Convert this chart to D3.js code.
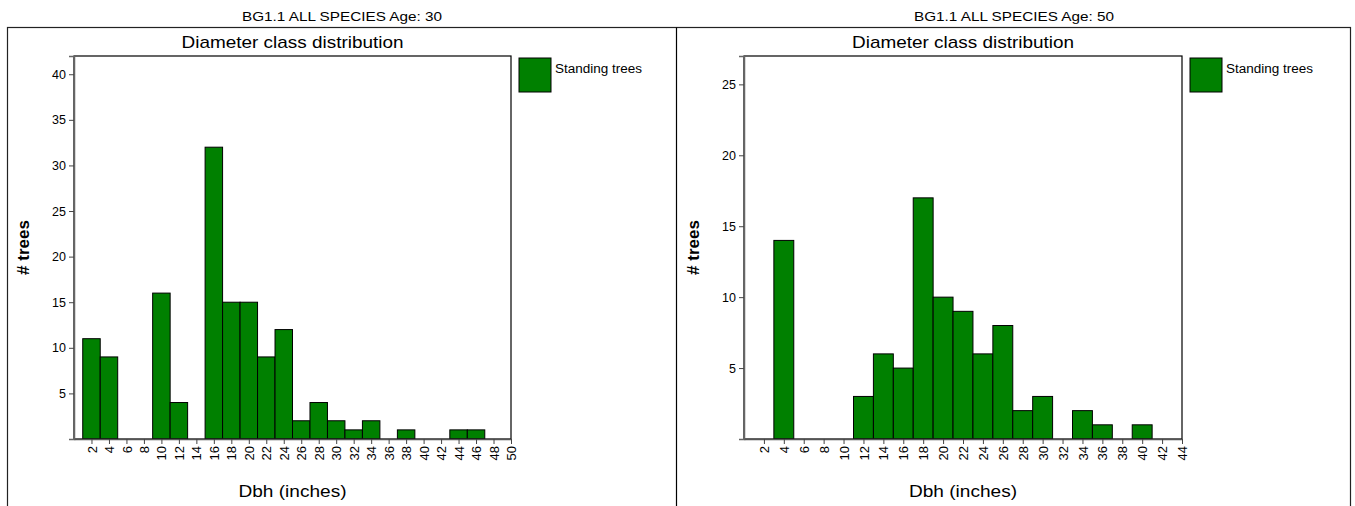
<!DOCTYPE html>
<html>
<head>
<meta charset="utf-8">
<script src="https://cdn.jsdelivr.net/npm/d3@7"></script>
<style>
  html, body { margin: 0; padding: 0; background: #fff; }
  svg { display: block; }
  text { font-family: "Liberation Sans", Arial, sans-serif; fill: #000; }
</style>
</head>
<body>
<svg id="chart" width="1355" height="506"></svg>
<script>
// Diameter classes (inches) and tree counts per class
const dbhAge30 = [2,4,6,8,10,12,14,16,18,20,22,24,26,28,30,32,34,36,38,40,42,44,46,48,50];
const treesAge30 = [11,9,0,0,16,4,0,32,15,15,9,12,2,4,2,1,2,0,1,0,0,1,1,0,0];

const dbhAge50 = [2,4,6,8,10,12,14,16,18,20,22,24,26,28,30,32,34,36,38,40,42,44];
const treesAge50 = [0,14,0,0,0,3,6,5,17,10,9,6,8,2,3,0,2,1,0,1,0,0];

const yTicksAge30 = [5,10,15,20,25,30,35,40];
const yTicksAge50 = [5,10,15,20,25];

const panelTitles = ["BG1.1 ALL SPECIES Age: 30", "BG1.1 ALL SPECIES Age: 50"];
const chartTitle = "Diameter class distribution";
const legendLabel = "Standing trees";
const xLabel = "Dbh (inches)";
const yLabel = "# trees";

const svg = d3.select("#chart");

// horizontal text drawn slightly wide
function wideText(sel, len) {
  return sel.attr("textLength", len).attr("lengthAdjust", "spacingAndGlyphs");
}

function drawPanel(cfg) {
  const g = svg.append("g");

  // panel heading above the frame
  g.append("text")
    .attr("x", (cfg.frameX0 + cfg.frameX1) / 2)
    .attr("y", 21)
    .attr("text-anchor", "middle")
    .style("font-size", "13px")
    .text(cfg.title)
    .call(wideText, 200);

  const x = d3.scaleLinear().domain([0, cfg.xMax]).range([cfg.px0, cfg.px1]);
  const y = d3.scaleLinear().domain([0, cfg.yMax]).range([cfg.py1, cfg.py0]);

  // chart title
  g.append("text")
    .attr("x", (cfg.px0 + cfg.px1) / 2)
    .attr("y", 48)
    .attr("text-anchor", "middle")
    .style("font-size", "17px")
    .text(chartTitle)
    .call(wideText, 222);

  // bars: each class spans +/-1 inch around its midpoint
  g.selectAll("rect.bar")
    .data(cfg.dbh.map((d, i) => ({ d, v: cfg.values[i] })).filter(o => o.v > 0))
    .join("rect")
    .attr("class", "bar")
    .attr("x", o => x(o.d - 1))
    .attr("width", o => x(o.d + 1) - x(o.d - 1))
    .attr("y", o => y(o.v))
    .attr("height", o => y(0) - y(o.v))
    .attr("fill", "#008000")
    .attr("stroke", "#000")
    .attr("stroke-width", 1);

  // plot frame
  g.append("rect")
    .attr("x", cfg.px0).attr("y", cfg.py0)
    .attr("width", cfg.px1 - cfg.px0).attr("height", cfg.py1 - cfg.py0)
    .attr("fill", "none").attr("stroke", "#000").attr("stroke-width", 1.2);

  // y axis
  const yAxis = g.append("g")
    .attr("transform", `translate(${cfg.px0},0)`)
    .call(d3.axisLeft(y).tickValues(cfg.yTicks).tickSize(5).tickPadding(3).tickFormat(d3.format("d")));
  yAxis.select(".domain").attr("stroke", "#666").attr("stroke-width", 1.5);
  yAxis.selectAll(".tick line").attr("stroke", "#444");
  yAxis.selectAll(".tick text")
    .style("font-size", "12.5px")
    .style("font-family", "'Liberation Sans', Arial, sans-serif")
    .attr("fill", "#000");

  // x axis with vertical labels
  const xAxis = g.append("g")
    .attr("transform", `translate(0,${cfg.py1})`)
    .call(d3.axisBottom(x).tickValues(cfg.dbh).tickSize(5).tickSizeOuter(0).tickFormat(d3.format("d")));
  xAxis.select(".domain").attr("stroke", "#555").attr("stroke-width", 1.5);
  xAxis.selectAll(".tick line").attr("stroke", "#444");
  xAxis.selectAll(".tick text")
    .style("font-size", "13px")
    .style("font-family", "'Liberation Sans', Arial, sans-serif")
    .attr("fill", "#000")
    .attr("transform", "rotate(-90)")
    .attr("text-anchor", "end")
    .attr("x", -7)
    .attr("y", 0)
    .attr("dy", "0.35em");

  // axis titles
  g.append("text")
    .attr("x", (cfg.px0 + cfg.px1) / 2)
    .attr("y", 497)
    .attr("text-anchor", "middle")
    .style("font-size", "17px")
    .text(xLabel)
    .call(wideText, 108);

  g.append("text")
    .attr("transform", `translate(${cfg.frameX0 + 22},${(cfg.py0 + cfg.py1) / 2}) rotate(-90)`)
    .attr("text-anchor", "middle")
    .style("font-size", "17px")
    .style("font-weight", "bold")
    .text(yLabel);

  // legend
  g.append("rect")
    .attr("x", cfg.px1 + 8).attr("y", 58)
    .attr("width", 32).attr("height", 34)
    .attr("fill", "#008000").attr("stroke", "#000").attr("stroke-width", 1);
  g.append("text")
    .attr("x", cfg.px1 + 44).attr("y", 73)
    .style("font-size", "12.5px")
    .text(legendLabel)
    .call(wideText, 87);
}

// outer frames of the two panels
svg.append("rect")
  .attr("x", 7.5).attr("y", 27.5).attr("width", 1343).attr("height", 490)
  .attr("fill", "none").attr("stroke", "#222").attr("stroke-width", 1.2);
svg.append("line")
  .attr("x1", 676.5).attr("x2", 676.5).attr("y1", 27.5).attr("y2", 506)
  .attr("stroke", "#000").attr("stroke-width", 1.2);

drawPanel({
  title: panelTitles[0], dbh: dbhAge30, values: treesAge30, yTicks: yTicksAge30,
  xMax: 50, yMax: 42, frameX0: 7, frameX1: 677,
  px0: 74, px1: 511, py0: 56, py1: 439
});

drawPanel({
  title: panelTitles[1], dbh: dbhAge50, values: treesAge50, yTicks: yTicksAge50,
  xMax: 44, yMax: 27, frameX0: 677, frameX1: 1351,
  px0: 744, px1: 1182, py0: 56, py1: 439
});
</script>
</body>
</html>
